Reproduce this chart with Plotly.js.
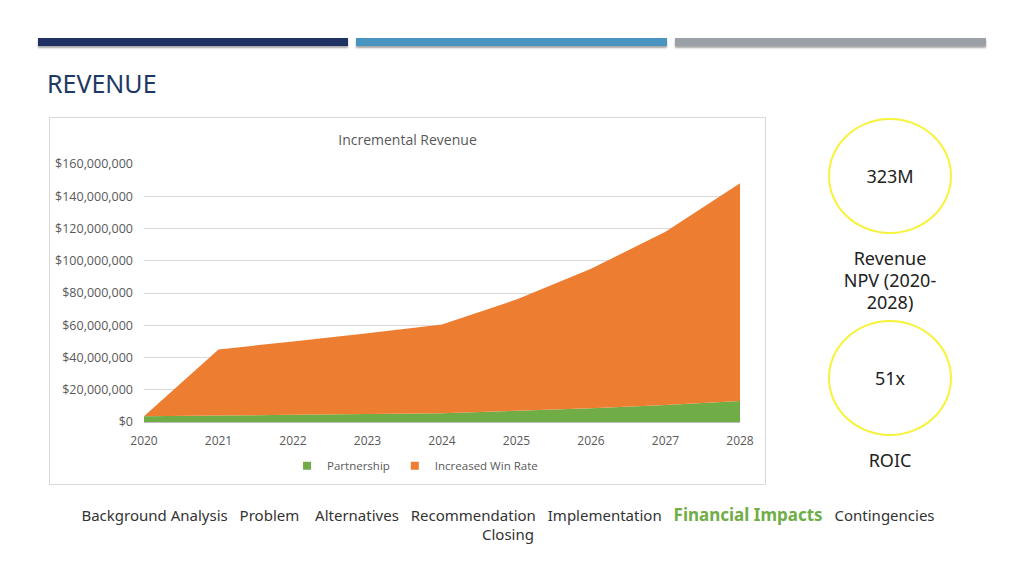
<!DOCTYPE html>
<html>
<head>
<meta charset="utf-8">
<script src="https://cdn.plot.ly/plotly-3.0.1.min.js"></script>
<style>
  body { margin: 0; width: 1024px; height: 575px; background: #fff; position: relative; overflow: hidden; font-family: "Noto Sans", sans-serif; }
  .bar { position: absolute; top: 38px; height: 8px; box-shadow: 0 2px 2px rgba(0,0,0,0.35); }
  #heading { position: absolute; left: 47px; top: 66px; font-size: 25px; color: #1f3864; }
  #chart { position: absolute; left: 49px; top: 117px; width: 715px; height: 366px; border: 1px solid #d9d9d9; }
  .ring { position: absolute; width: 120px; height: 112px; border: 2px solid #f7f23a; border-radius: 50%; display: flex; align-items: center; justify-content: center; font-size: 18px; color: #222; }
  .label { position: absolute; left: 820px; width: 140px; text-align: center; font-size: 18px; color: #222; line-height: 22px; }
  #nav { position: absolute; left: 58px; top: 505px; width: 900px; text-align: center; font-size: 15px; color: #333; line-height: 19px; }
  #nav span { margin: 0 4px; }
  #nav .on { color: #70ad47; font-weight: bold; font-size: 17px; }
</style>
</head>
<body>
<div class="bar" style="left:38px;width:310px;background:#1f3062"></div>
<div class="bar" style="left:356px;width:311px;background:#4a94c0"></div>
<div class="bar" style="left:675px;width:311px;background:#9aa0a6"></div>
<div id="heading">REVENUE</div>
<div id="chart"></div>
<div class="ring" style="left:828px;top:118px">323M</div>
<div class="label" style="top:247px">Revenue<br>NPV (2020-<br>2028)</div>
<div class="ring" style="left:828px;top:320px">51x</div>
<div class="label" style="top:449px">ROIC</div>
<div id="nav"><span>Background Analysis</span> <span>Problem</span>&nbsp; <span>Alternatives</span> <span>Recommendation</span> <span>Implementation</span> <span class="on">Financial Impacts</span> <span>Contingencies</span><br><span>Closing</span></div>
<script>
const years = ["2020", "2021", "2022", "2023", "2024", "2025", "2026", "2027", "2028"];
const partnership = [3500000, 4000000, 4500000, 5000000, 5500000, 7000000, 8500000, 10500000, 13000000];
const winRate = [0, 41000000, 45500000, 50000000, 55000000, 69000000, 86500000, 107500000, 135000000];
const yTicks = [0, 20000000, 40000000, 60000000, 80000000, 100000000, 120000000, 140000000, 160000000];
const yTickText = ["$0", "$20,000,000", "$40,000,000", "$60,000,000", "$80,000,000", "$100,000,000", "$120,000,000", "$140,000,000", "$160,000,000"];
const seriesNames = ["Partnership", "Increased Win Rate"];
const seriesColors = ["#70ad47", "#ed7d31"];

// areas are drawn without legend; square-marker entries stand in for the legend keys
const traces = [
  { name: seriesNames[0], x: years, y: partnership, type: "scatter", mode: "none",
    stackgroup: "rev", fillcolor: seriesColors[0], showlegend: false },
  { name: seriesNames[1], x: years, y: winRate, type: "scatter", mode: "none",
    stackgroup: "rev", fillcolor: seriesColors[1], showlegend: false }
];
seriesNames.forEach((n, i) => {
  traces.push({ name: n, x: [null], y: [null], type: "scatter", mode: "markers",
    marker: { symbol: "square", size: 8, color: seriesColors[i] }, showlegend: true });
});

const layout = {
  width: 715, height: 366,
  margin: { l: 94, r: 25, t: 46, b: 62 },
  paper_bgcolor: "#fff", plot_bgcolor: "#fff",
  font: { family: "Open Sans, sans-serif", size: 12, color: "#595959" },
  title: { text: "Incremental Revenue", x: 0.5, xanchor: "center", y: 0.94, yanchor: "middle",
    font: { size: 14, color: "#595959" } },
  showlegend: true,
  legend: { orientation: "h", traceorder: "normal", x: 0.24, xanchor: "left", itemwidth: 30,
    yref: "container", y: 0.05, yanchor: "middle", font: { size: 11.5, color: "#595959" } },
  xaxis: { type: "category", range: [0, 8], showgrid: false, showline: true, linecolor: "#bfbfbf",
    ticks: "", ticklabelstandoff: 8, fixedrange: true },
  yaxis: { range: [0, 160000000], tickvals: yTicks, ticktext: yTickText, showgrid: true,
    gridcolor: "#d9d9d9", zeroline: false, showline: false, ticks: "", ticklabelstandoff: 10,
    fixedrange: true, tickfont: { size: 12.5 } }
};

Plotly.newPlot("chart", traces, layout, { displayModeBar: false, staticPlot: true });
</script>
</body>
</html>
